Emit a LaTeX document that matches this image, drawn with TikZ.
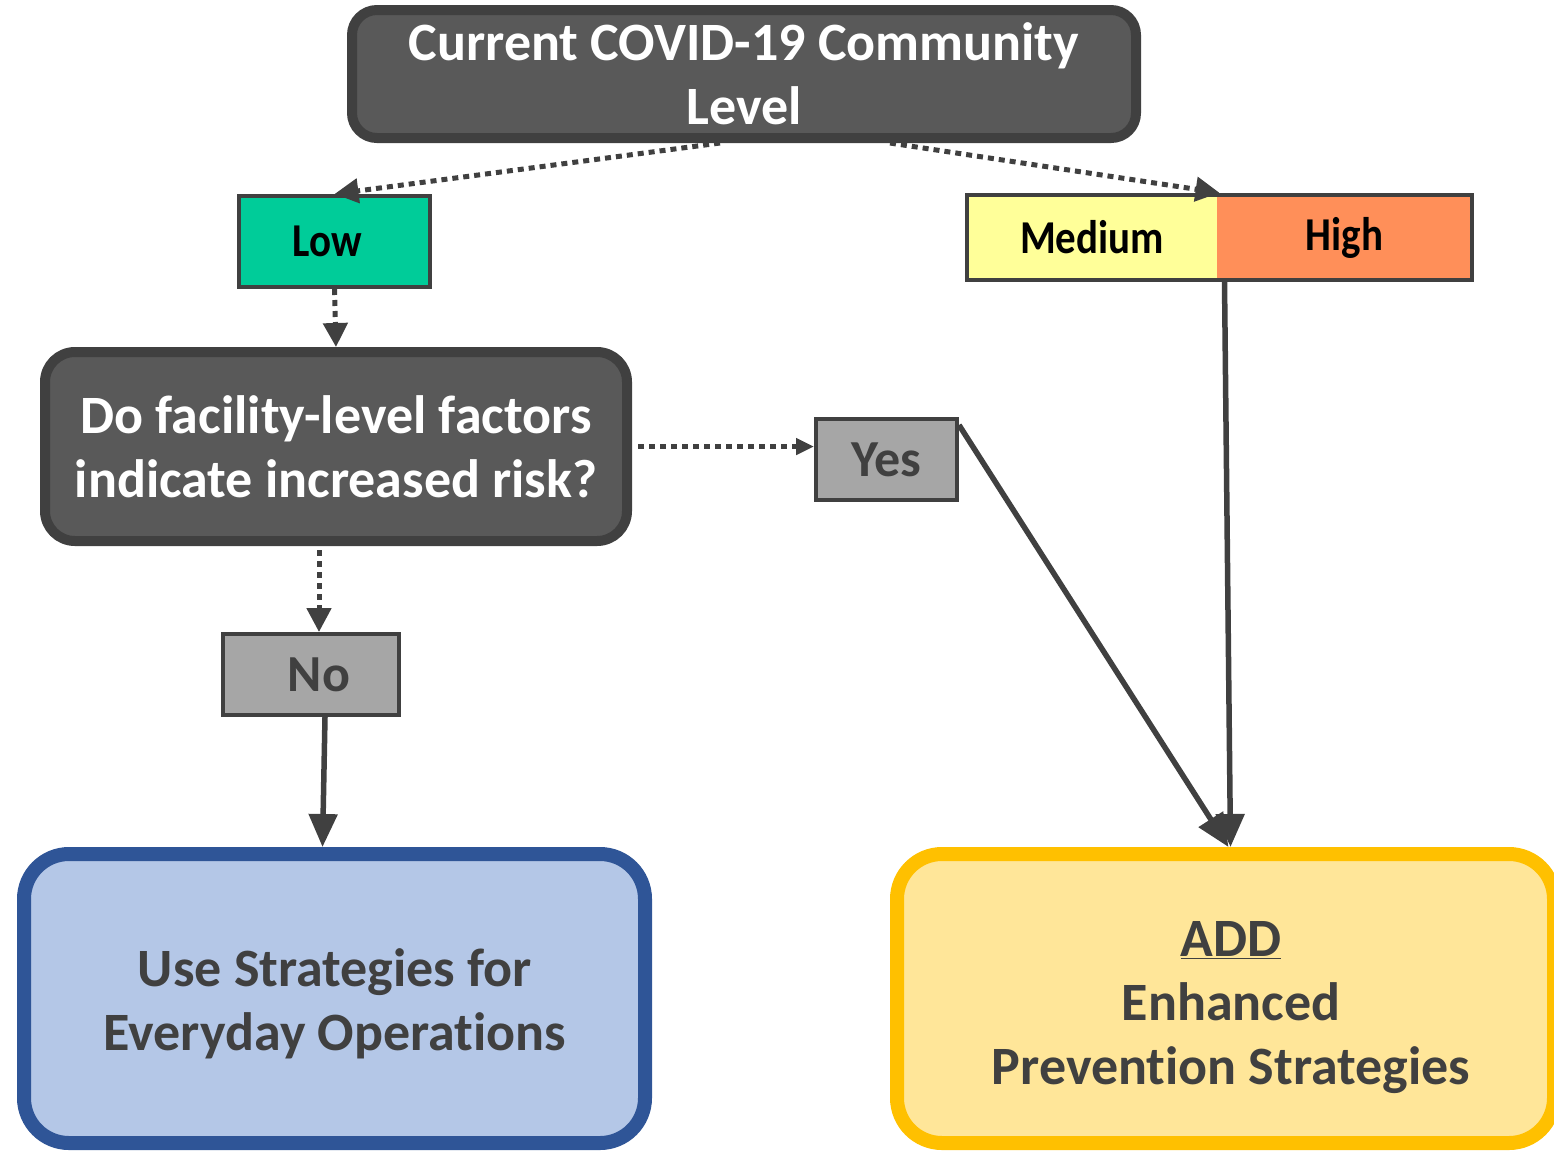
\documentclass[tikz,border=0pt]{standalone}
\usepackage{fontspec}
\setmainfont{Carlito}[Ligatures=CommonOff]
\usetikzlibrary{arrows.meta,fit}
\definecolor{dk}{HTML}{404040}
\definecolor{boxfill}{HTML}{595959}
\definecolor{lowc}{HTML}{00CC99}
\definecolor{medc}{HTML}{FFFF99}
\definecolor{highc}{HTML}{FF8F59}
\definecolor{grayc}{HTML}{A6A6A6}
\definecolor{bluec}{HTML}{2F5597}
\definecolor{bluef}{HTML}{B4C7E7}
\definecolor{yelc}{HTML}{FFC000}
\definecolor{yelf}{HTML}{FFE699}
\begin{document}
\begin{tikzpicture}[x=1pt,y=-1pt,
  bigfont/.style={font=\bfseries\fontsize{54}{64}\selectfont},
  levelfont/.style={font=\bfseries\fontsize{41}{48}\selectfont},
  darkbox/.style={draw=dk, fill=boxfill, line width=10pt, rounded corners=25pt,
    text=white, bigfont, align=center, inner sep=0pt},
  smallbox/.style={draw=dk, line width=4pt, inner sep=0pt},
  levelbox/.style={inner sep=0pt, levelfont, text=black},
  answerbox/.style={smallbox, fill=grayc, text=dk, font=\bfseries\fontsize{52}{60}\selectfont,
    minimum height=81pt},
  bigbox/.style={line width=14pt, rounded corners=45pt, inner sep=0pt},
  bigtext/.style={bigfont, text=dk, align=center, inner sep=0pt},
  dotarrow/.style={draw=dk, line width=5pt, dash pattern=on 6pt off 5pt,
    -{Triangle[length=24pt,width=24pt]}},
  solidarrow/.style={draw=dk, line width=5.5pt, -{Triangle[length=33pt,width=28pt]}}
]
\useasboundingbox (0,0) rectangle (1554,1152);

% boxes
\node[darkbox, minimum width=784pt, minimum height=128pt] (top) at (744,74)
  {Current COVID-19 Community\\Level};

\node[smallbox, levelbox, fill=lowc, minimum width=191pt, minimum height=91pt] (low)
  at (334.5,241.5) {\raisebox{-4pt}{\scalebox{1}[1.15]{Low}}\hspace*{14pt}};

\node[levelbox, fill=medc, minimum width=250pt, minimum height=85pt] (med)
  at (1092,237.5) {\scalebox{1}[1.15]{Medium}};
\node[levelbox, fill=highc, minimum width=255pt, minimum height=85pt] (high)
  at (1344.5,237.5) {\scalebox{1}[1.15]{High}};
\node[smallbox, fit=(med)(high)] (mh) {};

\node[darkbox, rounded corners=30pt, minimum width=582pt, minimum height=189pt] (decision)
  at (336,446.5) {Do facility-level factors\\indicate increased risk?};

\node[answerbox, minimum width=141pt] (yes) at (886.5,459.5) {Yes};
\node[answerbox, minimum width=176pt] (no) at (311,674.5) {\hspace*{16pt}No};

\node[bigbox, draw=bluec, fill=bluef, minimum width=621pt, minimum height=289pt] (blue)
  at (334.5,998.5) {};
\node[bigtext] (bluetext) at (335,1004) {Use Strategies for\\Everyday Operations};

\node[bigbox, draw=yelc, fill=yelf, minimum width=657pt, minimum height=289pt] (yellow)
  at (1225.5,998.5) {};
\node[bigtext] (yellowtext) at (1231,1008)
  {\underline{ADD}\\Enhanced\\Prevention Strategies};

% connectors
\draw[dotarrow] ([xshift=-24pt]top.south) -- (low.north);
\draw[dotarrow] ([xshift=146pt]top.south) -- (mh.north);
\draw[dotarrow] (low.south) -- (decision.north);
\draw[dotarrow, shorten <=6pt, -{Triangle[length=18pt,width=16pt]}] (decision.east) -- (decision.east -| yes.west);
\draw[dotarrow, shorten <=4pt] ([xshift=-17pt]decision.south) -- ([xshift=8pt]no.north);
\draw[solidarrow] ([xshift=14pt]no.south) -- ([xshift=-12pt]blue.north);
\draw[solidarrow] ([yshift=-8pt]yes.north east) -- ([xshift=3pt]yellow.north);
\draw[solidarrow] ([xshift=5pt]mh.south) -- ([xshift=5pt]yellow.north);
\end{tikzpicture}
\end{document}
